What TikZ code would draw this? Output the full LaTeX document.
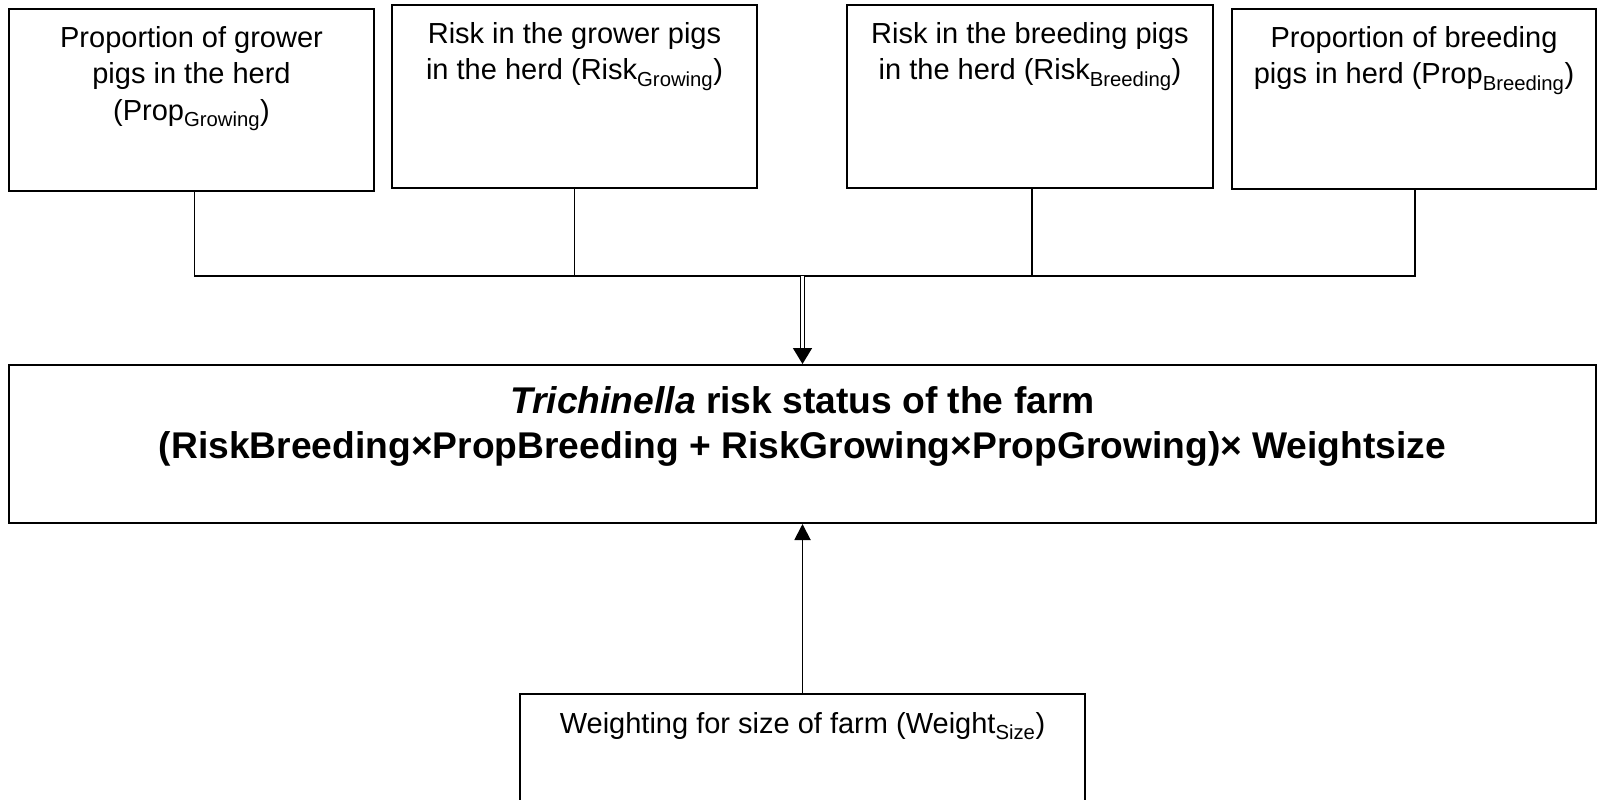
\documentclass[tikz,border=0pt]{standalone}
\usepackage{fontspec}
\setmainfont{Liberation Sans}
\usetikzlibrary{arrows.meta}
\begin{document}
\begin{tikzpicture}[x=1pt,y=-1pt,
  box/.style={draw, line width=2pt, inner sep=0pt, anchor=north west},
  lbl/.style={font=\fontsize{29}{36.7}\selectfont, align=center, anchor=north, inner sep=0pt},
  mainlbl/.style={font=\bfseries\fontsize{37.2}{45}\selectfont, align=center, anchor=north, inner sep=0pt},
  conn/.style={line width=1.9pt},
  dblarrow/.style={line width=1.6pt, double, double distance=2.2pt, -{Triangle[length=16pt,width=19pt]}},
  arrow/.style={line width=1.9pt, -{Triangle[length=16pt,width=16pt]}}]
\useasboundingbox (0,0) rectangle (1599,800);
% top boxes
\node[box, minimum width=365pt, minimum height=182pt] (b1) at (8,8) {};
\node[box, minimum width=365pt, minimum height=183pt] (b2) at (391,4) {};
\node[box, minimum width=366pt, minimum height=183pt] (b3) at (846,4) {};
\node[box, minimum width=364pt, minimum height=180pt] (b4) at (1231,8) {};
% main box
\node[box, minimum width=1587pt, minimum height=158pt] (main) at (8,364) {};
% bottom box
\node[box, minimum width=565pt, minimum height=125pt] (b5) at (519,693) {};
% labels
\node[lbl] (t1) at ([yshift=-18pt]b1.north) {Proportion of grower\\pigs in the herd\\(Prop\textsubscript{Growing})};
\node[lbl] (t2) at ([yshift=-18pt]b2.north) {Risk in the grower pigs\\in the herd (Risk\textsubscript{Growing})};
\node[lbl] (t3) at ([yshift=-18pt]b3.north) {Risk in the breeding pigs\\in the herd (Risk\textsubscript{Breeding})};
\node[lbl] (t4) at ([yshift=-18pt]b4.north) {Proportion of breeding\\pigs in herd (Prop\textsubscript{Breeding})};
\node[mainlbl] (tm) at ([yshift=-22pt]main.north) {\textit{Trichinella} risk status of the farm\\(RiskBreeding×PropBreeding + RiskGrowing×PropGrowing)× Weightsize};
\node[lbl] (t5) at ([yshift=-19pt]b5.north) {Weighting for size of farm (Weight\textsubscript{Size})};
% connectors
\coordinate (J) at (main.north |- 0,276);
\draw[conn] ([xshift=3pt]b1.south) |- ([xshift=1pt]b4.south |- J) -- ([xshift=1pt]b4.south);
\draw[conn] (b2.south) -- (b2.south |- J);
\draw[conn] ([xshift=2pt]b3.south) -- ([xshift=2pt]b3.south |- J);
\draw[dblarrow] (J) -- (main.north);
\draw[arrow] (b5.north) -- (main.south);
\end{tikzpicture}
\end{document}
